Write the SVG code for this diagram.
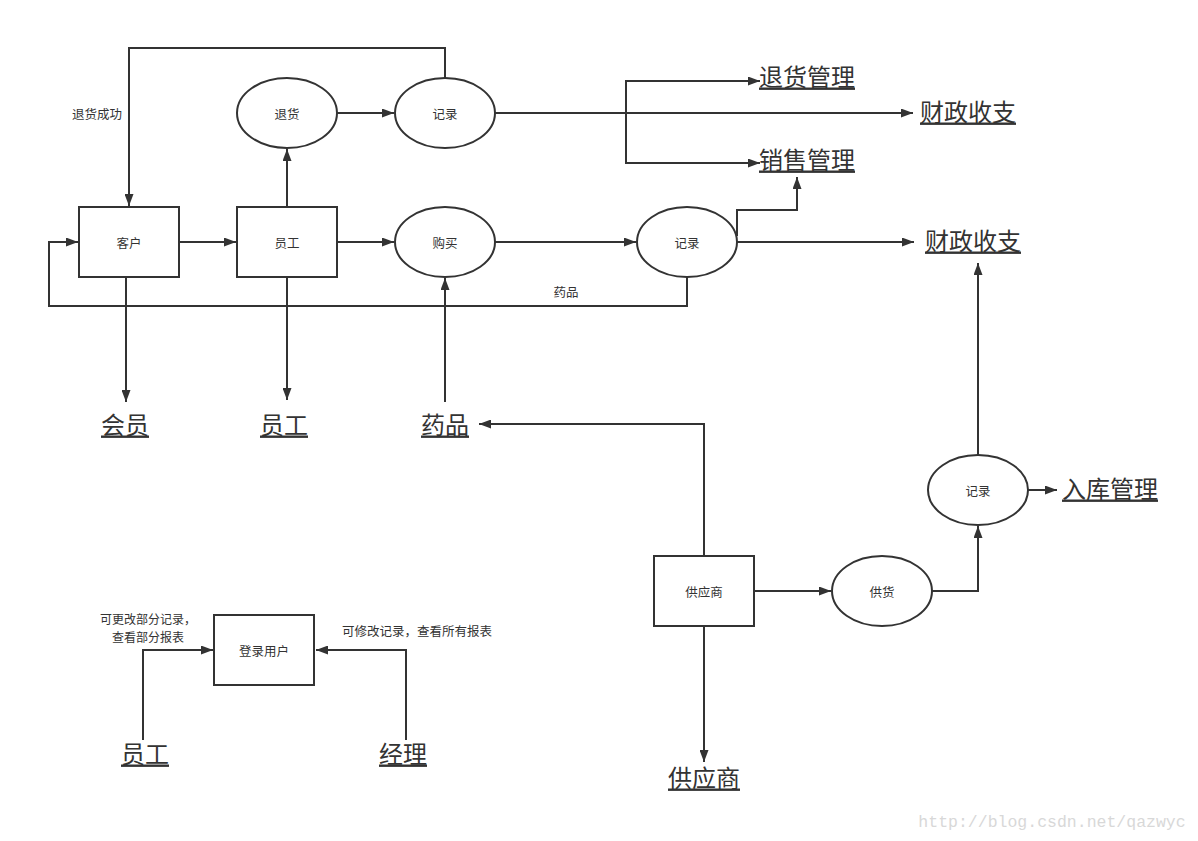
<svg xmlns="http://www.w3.org/2000/svg" width="1198" height="841" viewBox="0 0 1198 841">
<style>
.n{fill:#fff;stroke:#333;stroke-width:2}
.t{font-family:"Noto Sans CJK SC","Liberation Sans",sans-serif;font-size:12.5px;fill:#333;text-anchor:middle;dominant-baseline:central}
.s{font-size:12px}
.b{font-family:"Noto Sans CJK SC","Liberation Sans",sans-serif;font-size:24px;fill:#333;text-anchor:middle;dominant-baseline:central;text-decoration:underline}
.c{fill:none;stroke:#333;stroke-width:2}
.a{marker-end:url(#ah)}
</style>
<defs>
<marker id="ah" viewBox="0 0 12 9" refX="12" refY="4.5" markerWidth="12" markerHeight="9" markerUnits="userSpaceOnUse" orient="auto">
<path d="M0,0 L12,4.5 L0,9 Z" fill="#333"/>
</marker>
</defs>
<rect width="1198" height="841" fill="#fff"/>
<g id="connectors">
<path class="c a" d="M179,242 H236"/>
<path class="c a" d="M337,242 H394"/>
<path class="c a" d="M495,242 H636"/>
<path class="c a" d="M737,242 H914"/>
<path class="c a" d="M737,236 V210 H797 V177"/>
<path class="c a" d="M687,277 V306 H49 V242 H78"/>
<path class="c a" d="M287,207 V149"/>
<path class="c a" d="M337,113 H394"/>
<path class="c a" d="M445,78 V48 H129 V206"/>
<path class="c a" d="M495,113 H913"/>
<path class="c a" d="M626,113 V81 H760"/>
<path class="c a" d="M626,113 V163 H760"/>
<path class="c a" d="M126,277 V402"/>
<path class="c a" d="M287,277 V400"/>
<path class="c a" d="M445,402 V278"/>
<path class="c a" d="M704,556 V424 H479"/>
<path class="c a" d="M704,626 V762"/>
<path class="c a" d="M754,591 H831"/>
<path class="c a" d="M932,591 H978 V526"/>
<path class="c a" d="M978,455 V263"/>
<path class="c a" d="M1028,490 H1057"/>
<path class="c a" d="M143,740 V650 H213"/>
<path class="c a" d="M406,740 V650 H316"/>
<text class="t" x="97" y="113">退货成功</text>
<text class="t" x="566" y="291">药品</text>
<text class="t s" x="148" y="618">可更改部分记录，</text>
<text class="t s" x="148" y="636">查看部分报表</text>
<text class="t" x="417" y="630">可修改记录，查看所有报表</text>
</g>
<g id="kehu"><rect class="n" x="79" y="207" width="100" height="70"/><text class="t" x="129" y="242">客户</text></g>
<g id="yuangong"><rect class="n" x="237" y="207" width="100" height="70"/><text class="t" x="287" y="242">员工</text></g>
<g id="goumai"><ellipse class="n" cx="445" cy="242" rx="50" ry="35"/><text class="t" x="445" y="242">购买</text></g>
<g id="jilu2"><ellipse class="n" cx="687" cy="242" rx="50" ry="35"/><text class="t" x="687" y="242">记录</text></g>
<g id="tuihuo"><ellipse class="n" cx="287" cy="113" rx="50" ry="35"/><text class="t" x="287" y="113">退货</text></g>
<g id="jilu1"><ellipse class="n" cx="445" cy="113" rx="50" ry="35"/><text class="t" x="445" y="113">记录</text></g>
<g id="gongyingshang"><rect class="n" x="654" y="556" width="100" height="70"/><text class="t" x="704" y="591">供应商</text></g>
<g id="gonghuo"><ellipse class="n" cx="882" cy="591" rx="50" ry="35"/><text class="t" x="882" y="591">供货</text></g>
<g id="jilu3"><ellipse class="n" cx="978" cy="490" rx="50" ry="35"/><text class="t" x="978" y="490">记录</text></g>
<g id="denglu"><rect class="n" x="214" y="615" width="100" height="70"/><text class="t" x="264" y="650">登录用户</text></g>
<g id="s-tuihuoguanli"><text class="b" x="807" y="75">退货管理</text></g>
<g id="s-xiaoshouguanli"><text class="b" x="807" y="158">销售管理</text></g>
<g id="s-caizheng1"><text class="b" x="968" y="110">财政收支</text></g>
<g id="s-caizheng2"><text class="b" x="973" y="239">财政收支</text></g>
<g id="s-huiyuan"><text class="b" x="125" y="423">会员</text></g>
<g id="s-yuangong"><text class="b" x="284" y="423">员工</text></g>
<g id="s-yaopin"><text class="b" x="445" y="423">药品</text></g>
<g id="s-gongyingshang"><text class="b" x="704" y="776">供应商</text></g>
<g id="s-ruku"><text class="b" x="1110" y="487">入库管理</text></g>
<g id="s-yuangong2"><text class="b" x="145" y="752">员工</text></g>
<g id="s-jingli"><text class="b" x="403" y="752">经理</text></g>
<text x="1052" y="822" font-family="Liberation Mono, monospace" font-size="16.5" fill="#d8d8d8" text-anchor="middle" dominant-baseline="central">http://blog.csdn.net/qazwyc</text>
</svg>
